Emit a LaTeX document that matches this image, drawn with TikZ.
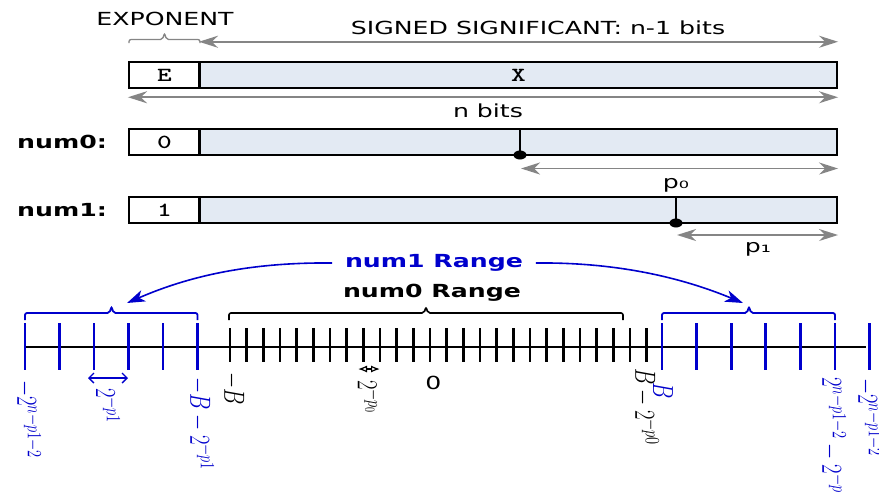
\documentclass[tikz,border=0pt]{standalone}
\usepackage[no-math]{fontspec}
\setmainfont{DejaVu Sans}
\newfontfamily\bitfont{lmmonolt10-bold}[Extension=.otf]
\usepackage{tikz}
\usetikzlibrary{arrows.meta}
\definecolor{cBlue}{HTML}{0000CC}
\definecolor{cGray}{HTML}{858585}
\definecolor{cField}{HTML}{E3EAF3}

\begin{document}
\begin{tikzpicture}[
  x=1pt,y=-1pt,
  txt/.style={font=\fontsize{18}{20}\selectfont,xscale=1.4,inner sep=0pt},
  btxt/.style={txt,font=\fontsize{18}{20}\selectfont\bfseries},
  cell/.style={draw,fill=white,line width=1.5pt,minimum width=50.7pt,minimum height=26pt,
               inner sep=0pt,xscale=1.4,font=\fontsize{20}{22}\selectfont\bitfont},
  fld/.style={cell,fill=cField,minimum width=455pt},
  gar/.style={{Stealth[length=19pt,width=12pt,inset=6pt]}-{Stealth[length=19pt,width=12pt,inset=6pt]},
              draw=cGray,line width=1.8pt},
  bar/.style={-{Stealth[length=18pt,width=12pt,inset=5pt]},draw=cBlue,line width=1.6pt},
  brk/.style={rounded corners=2pt,line width=1.6pt},
  tk/.style={line width=2.6pt},
  btk/.style={line width=2.8pt,draw=cBlue},
  dim/.style={{Straight Barb[length=5pt,width=10pt]}-{Straight Barb[length=5pt,width=10pt]},line width=1.4pt},
  mlbl/.style={rotate=-90,yscale=1.4,anchor=west,inner sep=0pt,font=\fontsize{20}{22}\selectfont}
]
\useasboundingbox (0,0) rectangle (879,493);
\clip (0,0) rectangle (879,493);

% ---- top labels
\node[txt] (ex) at (165,19) {EXPONENT};
\node[txt] (sg) at (538,28) {SIGNED SIGNIFICANT: n-1 bits};

% ---- registers
\node[cell] (e0) at (164.5,75) {E};
\node[fld]  (x0) at (518.5,75) {X};
\node[btxt] (n0) at (62,142) {num0:};
\node[cell] (e1) at (164.5,142) {0};
\node[fld]  (x1) at (518.5,142) {};
\node[btxt] (n1) at (62,210) {num1:};
\node[cell] (e2) at (164.5,210) {1};
\node[fld]  (x2) at (518.5,210) {};
\foreach \r in {x0,x1,x2} \draw[line width=2.6pt] (\r.north west) -- (\r.south west);

% ---- widths
\draw[brk,draw=cGray,line width=1.3pt] (129,43) -- (129,39.5) -- (162.5,39.5) -- (164.5,33)
      -- (166.5,39.5) -- (200,39.5) -- (200,43);
\draw[gar] ([yshift=19.5pt]x0.north west) -- ([yshift=19.5pt]x0.north east);
\draw[gar] ([yshift=-8.5pt]e0.south west) -- ([yshift=-8.5pt]x0.south east);
\node[txt] (nb) at (488,111) {n bits};

% ---- point positions
\coordinate (m0) at (520,155);
\coordinate (m1) at (676,223);
\draw[line width=2pt] (m0 |- x1.north) -- (m0);
\draw[line width=2pt] (m1 |- x2.north) -- (m1);
\fill (m0) ellipse (6.5pt and 4.5pt);
\fill (m1) ellipse (6.5pt and 4.5pt);
\coordinate (a0) at (521,168.5);
\coordinate (a1) at (677,235);
\draw[gar] (a0) -- (a0 -| x1.east);
\draw[gar] (a1) -- (a1 -| x2.east);
\node[txt] (p0) at (676,185) {p₀};
\node[txt] (p1) at (758,249) {p₁};

% ---- ranges
\node[btxt,text=cBlue,inner xsep=9pt] (r1) at (434,263) {num1 Range};
\node[btxt] (r0) at (432,293) {num0 Range};
\coordinate (lt) at (127,303);
\coordinate (rt) at (743,303);
\draw[bar] (r1.west) .. controls (240,262) and (180,280) .. (lt);
\draw[bar] (r1.east) .. controls (625,262) and (690,281) .. (rt);

\draw[brk,draw=cBlue,line width=1.8pt] (25,320) -- (25,313) -- (109.5,313) -- (111.5,306.5)
      -- (113.5,313) -- (197.5,313) -- (197.5,320);
\draw[brk] (229,320) -- (229,313) -- (424,313) -- (426,307) -- (428,313) -- (623,313) -- (623,320);
\draw[brk,draw=cBlue,line width=1.8pt] (662,320) -- (662,313) -- (747,313) -- (749,306.5)
      -- (751,313) -- (835,313) -- (835,320);

% ---- number line
\draw[line width=1.6pt] (24,347) -- (866,347);
\foreach \i in {0,...,25} \draw[tk] ({230+16.67*\i},328) -- ++(0,34);
\foreach \i in {0,...,5} \draw[btk] ({25+34.5*\i},323) -- ++(0,47);
\foreach \i in {0,...,6} \draw[btk] ({662+34.6*\i},323) -- ++(0,47);

% ---- tick labels
\node[mlbl,text=cBlue] (l1) at (28,380)  {$-2^{n-p1-2}$};
\node[mlbl,text=cBlue] (l2) at (108,388) {$2^{-p1}$};
\node[mlbl,text=cBlue] (l3) at (201,377) {$-B-2^{-p1}$};
\node[mlbl]            (l4) at (233,372) {$-B$};
\node[mlbl]            (l5) at (369,380) {$2^{-p_0}$};
\node[txt]             (l0) at (433.5,383) {0};
\node[mlbl]            (l6) at (646,368) {$B-2^{-p0}$};
\node[mlbl,text=cBlue] (l7) at (663,382) {$B$};
\node[mlbl,text=cBlue] (l8) at (833,377) {$2^{n-p1-2}-2^{-p1}$};
\node[mlbl,text=cBlue] (l9) at (869,378) {$-2^{n-p1-2}$};

\coordinate (d1a) at (88,378);
\coordinate (d1b) at (128,378);
\draw[dim,draw=cBlue] (d1a) -- (d1b);
\coordinate (d0a) at (358,369);
\coordinate (d0b) at (380,369);
\draw[{Latex[open,length=9pt,width=7pt]}-{Latex[open,length=9pt,width=7pt]},line width=1.2pt] (d0a) -- (d0b);
\end{tikzpicture}
\end{document}
